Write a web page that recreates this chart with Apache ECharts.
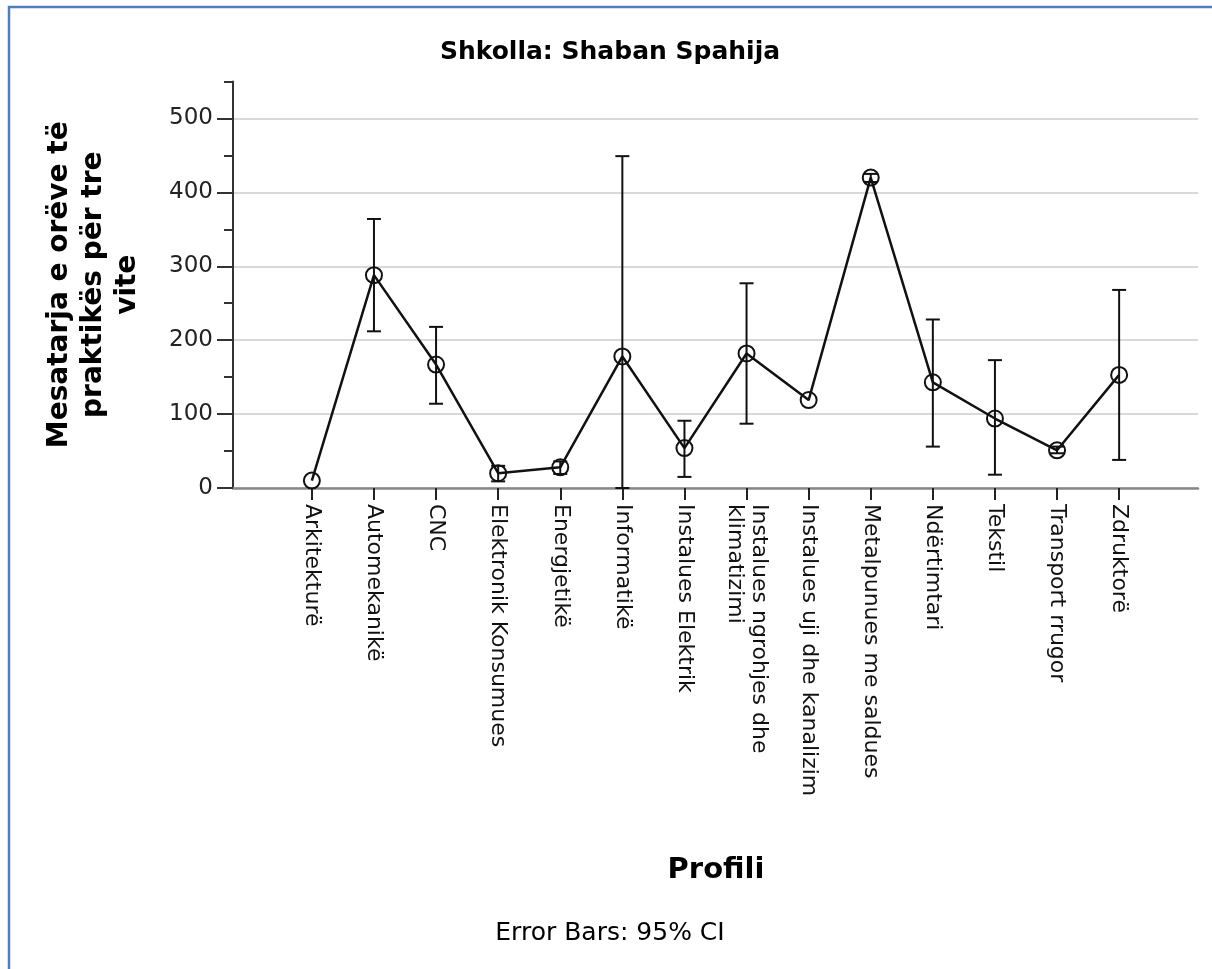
<!DOCTYPE html>
<html lang="en">

<head>
    <meta charset="UTF-8">
    <title>Shkolla: Shaban Spahija</title>
    <script src="https://cdn.jsdelivr.net/npm/echarts@6.0.0/dist/echarts.min.js"></script>
    <style>
        body { margin: 0; background: #fff; }
    </style>
</head>

<body>
    <div id="main" style="width: 1212px;height:969px;"></div>
    <script type="text/javascript">
        const categories = ['Arkitekturë', 'Automekanikë', 'CNC', 'Elektronik Konsumues', 'Energjetikë',
            'Informatikë', 'Instalues Elektrik', 'Instalues ngrohjes dhe\nklimatizimi',
            'Instalues uji dhe kanalizim', 'Metalpunues me saldues', 'Ndërtimtari', 'Tekstil',
            'Transport rrugor', 'Zdruktorë'];
        const means = [10, 288, 167, 20, 28, 178, 54, 182, 119, 420, 143, 94, 51, 153];
        const ciLow = [null, 212, 114, 9, 19, 0, 15, 87, null, 414, 56, 18, 47, 38];
        const ciHigh = [null, 364, 218, 30, 36, 449, 91, 277, null, 425, 228, 173, 56, 268];
        const yLabels = [0, 100, 200, 300, 400, 500];

        const font = '"DejaVu Sans", sans-serif';
        const idx = categories.map((c, i) => i);

        const lineData = means.map((v, i) => [i, v]);
        const errData = [];
        idx.forEach(i => {
            if (ciLow[i] !== null) errData.push([i, ciLow[i], ciHigh[i]]);
        });

        let myChart = echarts.init(document.getElementById('main'));

        let options = {
            animation: false,
            backgroundColor: '#fff',
            grid: { left: 233, right: 14, top: 81.5, bottom: 481, containLabel: false, outerBoundsMode: 'none' },
            graphic: [
                { type: 'polyline', shape: { points: [[9, 980], [9, 7], [1220, 7]] },
                  style: { stroke: '#4f7fbe', lineWidth: 2.5, fill: null } },
                { type: 'text', x: 610, y: 52,
                  style: { text: 'Shkolla: Shaban Spahija', font: 'bold 25px ' + font, fill: '#000',
                           textAlign: 'center', textVerticalAlign: 'middle' } },
                { type: 'text', x: 716, y: 870,
                  style: { text: 'Profili', font: 'bold 29px ' + font, fill: '#000',
                           textAlign: 'center', textVerticalAlign: 'middle' } },
                { type: 'text', x: 610, y: 933,
                  style: { text: 'Error Bars: 95% CI', font: '25px ' + font, fill: '#000',
                           textAlign: 'center', textVerticalAlign: 'middle' } }
            ],
            xAxis: {
                type: 'value',
                min: -1.27,
                max: 14.27,
                axisLine: { show: true, onZero: false, lineStyle: { color: '#888', width: 2.5 } },
                axisTick: { show: true, customValues: idx, length: 12, lineStyle: { color: '#222', width: 2 } },
                axisLabel: {
                    customValues: idx,
                    formatter: v => categories[Math.round(v)],
                    rotate: -90,
                    margin: 16,
                    fontFamily: font,
                    fontSize: 22,
                    lineHeight: 24,
                    color: '#111'
                },
                splitLine: { show: false }
            },
            yAxis: [{
                type: 'value',
                min: 0,
                max: 550,
                interval: 50,
                position: 'left',
                axisLine: { show: true, onZero: false, lineStyle: { color: '#333', width: 2 } },
                axisTick: { show: true, length: 9, lineStyle: { color: '#333', width: 2 } },
                axisLabel: {
                    customValues: yLabels,
                    formatter: v => (v % 100 === 0 ? String(v) : ''),
                    margin: 20,
                    fontFamily: font,
                    fontSize: 23,
                    color: '#222'
                },
                splitLine: {
                    show: true,
                    showMaxLine: false,
                    lineStyle: { color: ['#d9d9d9', 'transparent'], width: 2 }
                },
                name: 'Mesatarja e orëve të\npraktikës për tre\nvite',
                nameLocation: 'middle',
                nameRotate: 90,
                nameGap: 88,
                nameTextStyle: {
                    fontFamily: font,
                    fontWeight: 'bold',
                    fontSize: 28,
                    lineHeight: 34,
                    color: '#000',
                    align: 'center'
                }
            }, {
                type: 'value',
                min: 0,
                max: 550,
                interval: 50,
                position: 'left',
                axisLine: { show: false, onZero: false },
                axisTick: { show: true, customValues: yLabels, length: 16, lineStyle: { color: '#333', width: 2 } },
                axisLabel: { show: false },
                splitLine: { show: false }
            }],
            series: [{
                name: 'CI',
                type: 'custom',
                yAxisIndex: 0,
                data: errData,
                encode: { x: 0, y: [1, 2] },
                renderItem: function (params, api) {
                    const lo = api.coord([api.value(0), api.value(1)]);
                    const hi = api.coord([api.value(0), api.value(2)]);
                    const half = 7;
                    const style = { stroke: '#111', lineWidth: 2 };
                    return {
                        type: 'group',
                        children: [
                            { type: 'line', shape: { x1: hi[0], y1: hi[1], x2: lo[0], y2: lo[1] }, style: style },
                            { type: 'line', shape: { x1: hi[0] - half, y1: hi[1], x2: hi[0] + half, y2: hi[1] }, style: style },
                            { type: 'line', shape: { x1: lo[0] - half, y1: lo[1], x2: lo[0] + half, y2: lo[1] }, style: style }
                        ]
                    };
                },
                z: 3
            }, {
                name: 'Mean',
                type: 'line',
                yAxisIndex: 0,
                data: lineData,
                symbol: 'circle',
                symbolSize: 16,
                itemStyle: { color: 'rgba(0,0,0,0)', borderColor: '#111', borderWidth: 2 },
                lineStyle: { color: '#111', width: 2.5 },
                z: 4
            }]
        };

        myChart.setOption(options);
    </script>
</body>

</html>
